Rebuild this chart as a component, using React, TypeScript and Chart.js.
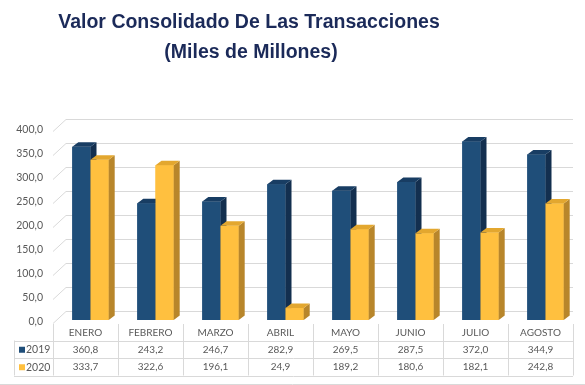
import React, { useEffect, useRef } from "react";
import { Chart, registerables } from "chart.js";

Chart.register(...registerables);

const categories = ["ENERO", "FEBRERO", "MARZO", "ABRIL", "MAYO", "JUNIO", "JULIO", "AGOSTO"];
const series2019 = [360.8, 243.2, 246.7, 282.9, 269.5, 287.5, 372.0, 344.9];
const series2020 = [333.7, 322.6, 196.1, 24.9, 189.2, 180.6, 182.1, 242.8];
const seriesLabels = ["2019", "2020"];
const titleLines = ["Valor Consolidado De Las Transacciones", "(Miles de Millones)"];

const FRONT = ["#1F4E79", "#FFC03F"];
const SIDE = ["#132F4F", "#B8862B"];
const TOP = ["#183D63", "#E3A72F"];
const GRID = "#D9D9D9";
const TEXT = "#595959";
const FONT = "Lato, 'Liberation Sans', sans-serif";

const fmt = (v: number) => v.toFixed(1).replace(".", ",");

const DX = 6;
const DY = 4.5;
const SHIFT = 5;

const threeD = {
  id: "threeD",
  beforeDatasetsDraw(chart: any) {
    const { ctx, chartArea, scales } = chart;
    const y = scales.y;
    ctx.save();
    ctx.strokeStyle = GRID;
    ctx.lineWidth = 1;
    const x0 = chartArea.left - SHIFT;
    const colW = (chartArea.right - chartArea.left) / categories.length;
    const xr = x0 + colW * categories.length;
    for (let v = 0; v <= 400; v += 50) {
      const py = Math.round(y.getPixelForValue(v)) + 0.5;
      ctx.beginPath();
      ctx.moveTo(x0, py + 3);
      ctx.lineTo(x0 + 13, py - 9);
      ctx.lineTo(xr, py - 9);
      ctx.stroke();
    }
    ctx.restore();
  },
  afterDatasetsDraw(chart: any) {
    const { ctx } = chart;
    const metas = [chart.getDatasetMeta(0), chart.getDatasetMeta(1)];
    ctx.save();
    for (let i = 0; i < categories.length; i++) {
      metas.forEach((meta: any, d: number) => {
        const el = meta.data[i];
        const { x, y, base, width } = el.getProps(["x", "y", "base", "width"], true);
        const l = x - width / 2;
        const r = x + width / 2;
        ctx.fillStyle = FRONT[d];
        ctx.fillRect(l, y, width, base - y);
        ctx.fillStyle = SIDE[d];
        ctx.beginPath();
        ctx.moveTo(r, y);
        ctx.lineTo(r + DX, y - DY);
        ctx.lineTo(r + DX, base - DY);
        ctx.lineTo(r, base);
        ctx.closePath();
        ctx.fill();
        ctx.fillStyle = TOP[d];
        ctx.beginPath();
        ctx.moveTo(l, y);
        ctx.lineTo(l + DX, y - DY);
        ctx.lineTo(r + DX, y - DY);
        ctx.lineTo(r, y);
        ctx.closePath();
        ctx.fill();
      });
    }
    ctx.restore();
  },
  afterDraw(chart: any) {
    const { ctx, chartArea, width: cw } = chart;
    ctx.save();
    ctx.fillStyle = "#1B2A59";
    ctx.font = "bold 19.5px 'Liberation Sans', Arial, sans-serif";
    ctx.textAlign = "center";
    ctx.textBaseline = "alphabetic";
    ctx.fillText(titleLines[0], 249, 28);
    ctx.fillText(titleLines[1], 251, 58);

    const x0 = chartArea.left - SHIFT;
    const colW = (chartArea.right - chartArea.left) / categories.length;
    const xr = x0 + colW * categories.length;
    const rowTop = 340.5;
    const rowH = 17.5;
    ctx.strokeStyle = GRID;
    ctx.lineWidth = 1;
    for (let i = 0; i <= categories.length; i++) {
      const px = Math.round(x0 + i * colW) + 0.5;
      ctx.beginPath();
      ctx.moveTo(px, 324);
      ctx.lineTo(px, rowTop + 2 * rowH);
      ctx.stroke();
    }
    for (let r = 0; r <= 2; r++) {
      const py = Math.round(rowTop + r * rowH) + 0.5;
      ctx.beginPath();
      ctx.moveTo(14, py);
      ctx.lineTo(xr, py);
      ctx.stroke();
    }
    ctx.beginPath();
    ctx.moveTo(14.5, rowTop);
    ctx.lineTo(14.5, rowTop + 2 * rowH);
    ctx.stroke();
    ctx.beginPath();
    ctx.moveTo(0, 384.5);
    ctx.lineTo(cw, 384.5);
    ctx.stroke();

    ctx.font = `10px ${FONT}`;
    ctx.fillStyle = TEXT;
    ctx.textBaseline = "middle";
    ctx.textAlign = "center";
    const rows = [series2019, series2020];
    categories.forEach((c, i) => {
      const cx = x0 + (i + 0.5) * colW;
      ctx.fillText(c, cx, 333);
      rows.forEach((vals, r) => {
        ctx.fillText(fmt(vals[i]), cx, rowTop + r * rowH + rowH / 2 + 0.5);
      });
    });
    ctx.font = `10.5px ${FONT}`;
    seriesLabels.forEach((s, r) => {
      const cy = rowTop + r * rowH + rowH / 2 + 0.5;
      ctx.fillStyle = FRONT[r];
      ctx.fillRect(19, cy - 3, 6, 6);
      ctx.fillStyle = TEXT;
      ctx.textAlign = "left";
      ctx.fillText(s, 26, cy);
    });
    ctx.restore();
  },
};

export default function App() {
  const ref = useRef<HTMLCanvasElement | null>(null);
  useEffect(() => {
    if (!ref.current) return;
    const chart = new Chart(ref.current, {
      type: "bar",
      data: {
        labels: categories,
        datasets: [
          { label: seriesLabels[0], data: series2019, backgroundColor: FRONT[0], categoryPercentage: 0.56, barPercentage: 1 },
          { label: seriesLabels[1], data: series2020, backgroundColor: FRONT[1], categoryPercentage: 0.56, barPercentage: 1 },
        ],
      },
      options: {
        responsive: false,
        animation: false,
        devicePixelRatio: 1,
        layout: { padding: { left: 15, right: 7, top: 128, bottom: 65 } },
        plugins: { legend: { display: false }, title: { display: false }, tooltip: { enabled: false } },
        scales: {
          x: { display: false },
          y: {
            min: 0,
            max: 400,
            ticks: {
              stepSize: 50,
              padding: 15,
              labelOffset: 2,
              color: TEXT,
              font: { family: FONT, size: 10.5 },
              callback: (v: any) => fmt(Number(v)),
            },
            grid: { display: false, drawTicks: false },
            border: { display: false },
            afterFit: (scale: any) => {
              scale.width = 43;
            },
          },
        },
      },
      plugins: [threeD],
    });
    return () => chart.destroy();
  }, []);
  return (
    <div style={{ position: "absolute", left: 0, top: 0, width: 585, height: 385, background: "#fff" }}>
      <canvas ref={ref} width={585} height={385} style={{ width: 585, height: 385 }} />
    </div>
  );
}
